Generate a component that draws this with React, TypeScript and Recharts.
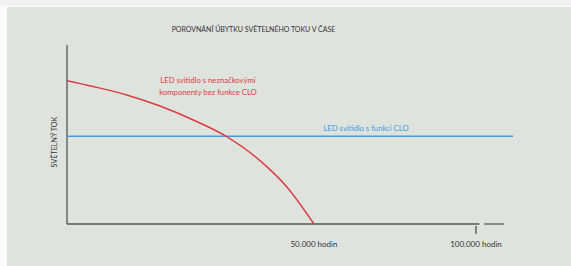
import { LineChart, Line, XAxis, YAxis, ReferenceLine } from 'recharts';

// úbytek světelného toku (%) v čase (hodiny)
const hours = [0, 5320, 12090, 18830, 25570, 32330, 39070, 44470, 50000];
const noNameFlux = [80.1, 76.8, 72.1, 65.9, 58.1, 48.8, 35.4, 20.8, 0];
const cloHours = [0, 111000];
const cloFlux = [49, 49];
const tickHours = [50000, 100000];
const tickLabels = ['50.000 hodin', '100.000 hodin'];

// osa času v originále není lineární – po úsecích
const scaleHours = [0, 50000, 100000, 111000];
const scaleFrac = [0, 0.5538, 0.917, 1];

const FONT = 'Lato, "Open Sans", sans-serif';

function makePiecewiseScale(dom: number[] = [0, 1], rng: number[] = [0, 1]): any {
  let d = dom;
  let r = rng;
  const scale: any = (v: number) => {
    let f = 0;
    if (v <= scaleHours[0]) f = scaleFrac[0];
    else if (v >= scaleHours[scaleHours.length - 1]) f = scaleFrac[scaleFrac.length - 1];
    else {
      for (let i = 0; i < scaleHours.length - 1; i++) {
        if (v >= scaleHours[i] && v <= scaleHours[i + 1]) {
          const t = (v - scaleHours[i]) / (scaleHours[i + 1] - scaleHours[i]);
          f = scaleFrac[i] + t * (scaleFrac[i + 1] - scaleFrac[i]);
          break;
        }
      }
    }
    return r[0] + (r[1] - r[0]) * f;
  };
  scale.domain = (x?: number[]) => {
    if (x === undefined) return d;
    d = x;
    return scale;
  };
  scale.range = (x?: number[]) => {
    if (x === undefined) return r;
    r = x;
    return scale;
  };
  scale.copy = () => makePiecewiseScale(d, r);
  scale.ticks = () => tickHours;
  return scale;
}

const timeScale = makePiecewiseScale();

function HourTick(props: any) {
  const { x, y, payload } = props;
  const idx = tickHours.indexOf(payload.value);
  return (
    <g>
      {payload.value === 100000 && (
        <line x1={x} x2={x} y1={y - 4} y2={y + 4} stroke="#444" strokeWidth={1.2} />
      )}
      <text x={x} y={y + 17} textAnchor="middle" fontSize={8} fill="#333" fontFamily={FONT}>
        {tickLabels[idx]}
      </text>
    </g>
  );
}

export default function App() {
  const redData = hours.map((h, i) => ({ hours: h, flux: noNameFlux[i] }));
  const blueData = cloHours.map((h, i) => ({ hours: h, flux: cloFlux[i] }));

  return (
    <div style={{ position: 'absolute', left: 0, top: 0, width: 571, height: 266, background: '#fbfbfb' }}>
      <div style={{ position: 'absolute', left: 0, top: 0, width: 571, height: 6, background: '#f1f1f1' }} />
      <div style={{ position: 'absolute', left: 7, top: 7, width: 564, height: 259, background: '#dfe3de' }}>
        <LineChart width={564} height={259} margin={{ top: 38, right: 58, bottom: 12, left: 60 }}>
          <XAxis
            dataKey="hours"
            type="number"
            scale={timeScale}
            domain={[0, 111000]}
            ticks={tickHours}
            axisLine={false}
            tickLine={false}
            tickMargin={0}
            height={30}
            tick={<HourTick />}
            allowDataOverflow
          />
          <YAxis hide domain={[0, 100]} type="number" />
          <ReferenceLine x={0} stroke="#555" strokeWidth={1.3} />
          <ReferenceLine segment={[{ x: 0, y: 0 }, { x: 101000, y: 0 }]} stroke="#555" strokeWidth={1.3} />
          <ReferenceLine segment={[{ x: 102500, y: 0 }, { x: 108300, y: 0 }]} stroke="#555" strokeWidth={1.3} />
          <Line
            data={blueData}
            dataKey="flux"
            stroke="#3d9be3"
            strokeWidth={1.5}
            dot={false}
            isAnimationActive={false}
          />
          <Line
            data={redData}
            dataKey="flux"
            type="monotone"
            stroke="#dc3c44"
            strokeWidth={1.5}
            dot={false}
            isAnimationActive={false}
          />
        </LineChart>
        <div
          style={{
            position: 'absolute', left: 0, width: 493, top: 16, textAlign: 'center',
            fontFamily: FONT, fontSize: 7, color: '#333', lineHeight: '12px',
          }}
        >
          POROVNÁNÍ ÚBYTKU SVĚTELNÉHO TOKU V ČASE
        </div>
        <div
          style={{
            position: 'absolute', left: 47, top: 135, width: 0, height: 0,
          }}
        >
          <div
            style={{
              position: 'absolute', left: 0, top: 0, transform: 'translate(-50%, -50%) rotate(-90deg)',
              whiteSpace: 'nowrap', fontFamily: FONT, fontSize: 7.2, color: '#333',
            }}
          >
            SVĚTELNÝ TOK
          </div>
        </div>
        <div
          style={{
            position: 'absolute', left: 101, width: 200, top: 68, textAlign: 'center',
            fontFamily: FONT, fontSize: 7.7, color: '#dc3c44', lineHeight: '11.7px',
          }}
        >
          LED svítidlo s neznačkovými<br />komponenty bez funkce CLO
        </div>
        <div
          style={{
            position: 'absolute', left: 259, width: 200, top: 115, textAlign: 'center',
            fontFamily: FONT, fontSize: 7.7, color: '#3d9be3', lineHeight: '12px',
          }}
        >
          LED svítidlo s funkcí CLO
        </div>
      </div>
    </div>
  );
}
